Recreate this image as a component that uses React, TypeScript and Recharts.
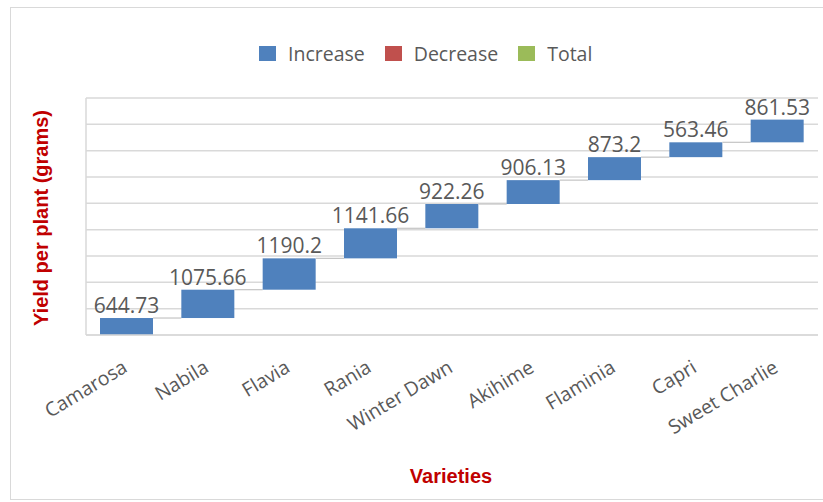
import React from 'react';
import { BarChart, Bar, XAxis, YAxis, CartesianGrid, LabelList } from 'recharts';

const categories = ['Camarosa', 'Nabila', 'Flavia', 'Rania', 'Winter Dawn', 'Akihime', 'Flaminia', 'Capri', 'Sweet Charlie'];
const increases = [644.73, 1075.66, 1190.2, 1141.66, 922.26, 906.13, 873.2, 563.46, 861.53];
const yTicks = [0, 1000, 2000, 3000, 4000, 5000, 6000, 7000, 8000, 9000];
const legendItems = [
  { name: 'Increase', color: '#4F81BD' },
  { name: 'Decrease', color: '#C0504D' },
  { name: 'Total', color: '#9BBB59' },
];

const data = categories.map((name, i) => ({
  name,
  base: increases.slice(0, i).reduce((a, b) => a + b, 0),
  increase: increases[i],
}));

const W = 823;
const H = 502;
const MARGIN = { top: 98, right: 5, left: 85, bottom: 107 };
const Y_AXIS_W = 1;
const BAR_SIZE = 53;
const plotW = W - MARGIN.left - Y_AXIS_W - MARGIN.right;
const GAP = plotW / categories.length - BAR_SIZE;
const FONT = '"Open Sans", "Liberation Sans", sans-serif';
const TEXT_GREY = '#595959';
const TITLE_RED = '#C00000';
const GRID = '#d9d9d9';

const WaterfallBar = (props: any) => {
  const { x, y, width, height, fill, index } = props;
  return (
    <g>
      <rect x={x} y={y} width={width} height={height} fill={fill} />
      {index < categories.length - 1 && (
        <line x1={x + width} y1={y} x2={x + width + GAP} y2={y} stroke="#c4c4c4" strokeWidth={1.2} />
      )}
    </g>
  );
};

const AngledTick = (props: any) => {
  const { x, y, payload } = props;
  return (
    <g transform={`translate(${x + 2},${y + 28})`}>
      <text x={0} y={0} textAnchor="end" transform="rotate(-31)" fill={TEXT_GREY} fontSize={19.5} fontFamily={FONT}>
        {payload.value}
      </text>
    </g>
  );
};

const EmptyTick = () => <g />;

export default function App() {
  return (
    <div style={{ position: 'absolute', left: 0, top: 0, width: W, height: H, overflow: 'hidden', background: '#fff' }}>
      <div
        style={{
          position: 'absolute',
          left: 10,
          top: 7,
          width: 840,
          height: 493,
          border: `1px solid ${GRID}`,
          boxSizing: 'border-box',
        }}
      />
      <div
        style={{
          position: 'absolute',
          left: 259,
          top: 46,
          display: 'flex',
          alignItems: 'center',
          fontFamily: FONT,
          fontSize: 19.5,
          color: TEXT_GREY,
          whiteSpace: 'nowrap',
          lineHeight: '15px',
        }}
      >
        {legendItems.map((it, i) => (
          <div key={it.name} style={{ display: 'flex', alignItems: 'center', marginRight: i < legendItems.length - 1 ? 20 : 0 }}>
            <div style={{ width: 17, height: 15, background: it.color, marginRight: 12 }} />
            <span>{it.name}</span>
          </div>
        ))}
      </div>
      <div style={{ position: 'absolute', left: 0, top: 0 }}>
        <BarChart width={W} height={H} data={data} margin={MARGIN} barCategoryGap={0}>
          <CartesianGrid vertical={false} stroke={GRID} strokeWidth={1.5} />
          <XAxis
            dataKey="name"
            height={60}
            axisLine={{ stroke: GRID, strokeWidth: 1.5 }}
            tickLine={false}
            interval={0}
            tick={<AngledTick />}
          />
          <YAxis
            width={Y_AXIS_W}
            domain={[0, 9000]}
            ticks={yTicks}
            interval={0}
            tick={<EmptyTick />}
            tickLine={false}
            axisLine={{ stroke: GRID, strokeWidth: 1.5 }}
          />
          <Bar dataKey="base" stackId="w" fill="transparent" barSize={BAR_SIZE} isAnimationActive={false} />
          <Bar dataKey="increase" stackId="w" fill="#4F81BD" barSize={BAR_SIZE} shape={<WaterfallBar />} isAnimationActive={false}>
            <LabelList dataKey="increase" position="top" offset={5} fill={TEXT_GREY} fontSize={21} fontFamily={FONT} />
          </Bar>
        </BarChart>
      </div>
      <div
        style={{
          position: 'absolute',
          left: 40.5,
          top: 218,
          transform: 'translate(-50%, -50%) rotate(-90deg)',
          whiteSpace: 'nowrap',
          fontFamily: '"Liberation Sans", Arial, sans-serif',
          fontWeight: 700,
          fontSize: 20,
          color: TITLE_RED,
          lineHeight: '22px',
        }}
      >
        Yield per plant (grams)
      </div>
      <div
        style={{
          position: 'absolute',
          left: 451,
          top: 476,
          transform: 'translate(-50%, -50%)',
          whiteSpace: 'nowrap',
          fontFamily: '"Liberation Sans", Arial, sans-serif',
          fontWeight: 700,
          fontSize: 20,
          color: TITLE_RED,
          lineHeight: '22px',
        }}
      >
        Varieties
      </div>
    </div>
  );
}
